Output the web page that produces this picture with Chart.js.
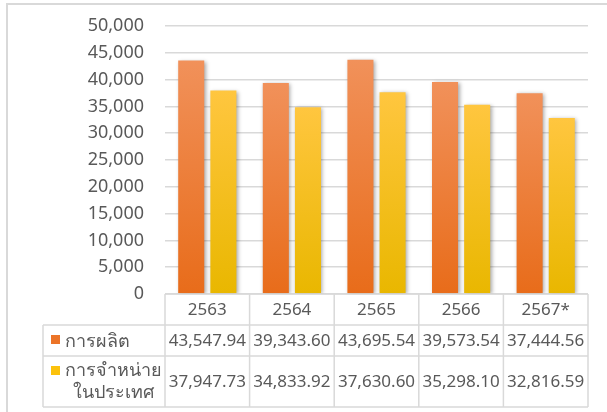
<!DOCTYPE html>
<html lang="th">
<head>
  <meta charset="UTF-8">
  <title>การผลิตและการจำหน่าย</title>
  <script src="https://cdn.jsdelivr.net/npm/chart.js@4.4.1/dist/chart.umd.min.js"></script>
  <style>
    body { margin: 0; padding: 0; overflow: hidden; background: #fff; }
    #wrap { position: relative; width: 607px; height: 412px; }
  </style>
</head>
<body>
  <div id="wrap"><canvas id="chart" width="607" height="412"></canvas></div>

  <script>
    // data
    const categories = ['2563', '2564', '2565', '2566', '2567*'];
    const production = [43547.94, 39343.60, 43695.54, 39573.54, 37444.56];
    const domestic = [37947.73, 34833.92, 37630.60, 35298.10, 32816.59];
    const seriesNames = [['การผลิต'], ['การจำหน่าย', 'ในประเทศ']];
    const yMax = 50000;
    const yStep = 5000;

    const textColor = '#595959';
    const lineColor = '#d9d9d9';
    const fontFamily = '"Noto Sans", Tahoma, sans-serif';
    const keyColors = ['#ec7428', '#fcc20c'];

    // per-bar vertical gradient like the office chart fill
    function barFill(top, bottom) {
      return function (context) {
        const chart = context.chart;
        const y = chart.scales.y;
        if (!y || context.parsed == null) return top;
        const y0 = y.getPixelForValue(context.parsed.y);
        const y1 = y.getPixelForValue(0);
        if (!isFinite(y0) || !isFinite(y1) || y0 === y1) return top;
        const g = chart.ctx.createLinearGradient(0, y0, 0, y1);
        g.addColorStop(0, top);
        g.addColorStop(1, bottom);
        return g;
      };
    }

    const shadowPlugin = {
      id: 'barShadow',
      beforeDatasetsDraw(chart) {
        const ctx = chart.ctx;
        ctx.save();
        ctx.shadowColor = 'rgba(0,0,0,0.35)';
        ctx.shadowBlur = 4;
        ctx.shadowOffsetX = 1.5;
        ctx.shadowOffsetY = 1;
      },
      afterDatasetsDraw(chart) {
        chart.ctx.restore();
      }
    };

    // data table under the plot, placed from the x scale
    const tablePlugin = {
      id: 'dataTable',
      afterDraw(chart) {
        const ctx = chart.ctx;
        const area = chart.chartArea;
        const x = chart.scales.x;
        const n = categories.length;
        const colW = (area.right - area.left) / n;
        const top = area.bottom;
        const rows = [top, top + 31, top + 62, top + 113];
        const labelLeft = 43;

        ctx.save();
        // outer frame of the chart object
        ctx.strokeStyle = lineColor;
        ctx.lineWidth = 2;
        ctx.beginPath();
        ctx.moveTo(7, 412);
        ctx.lineTo(7, 4);
        ctx.lineTo(607, 4);
        ctx.stroke();

        ctx.lineWidth = 1.5;
        ctx.beginPath();
        ctx.moveTo(area.left, rows[0]);
        ctx.lineTo(area.right, rows[0]);
        for (let r = 1; r < rows.length; r++) {
          ctx.moveTo(labelLeft, rows[r]);
          ctx.lineTo(area.right, rows[r]);
        }
        ctx.moveTo(labelLeft, rows[1]);
        ctx.lineTo(labelLeft, rows[3]);
        for (let i = 0; i <= n; i++) {
          const cx = area.left + i * colW;
          ctx.moveTo(cx, rows[0]);
          ctx.lineTo(cx, rows[3]);
        }
        ctx.stroke();

        ctx.fillStyle = textColor;
        ctx.textAlign = 'center';
        ctx.textBaseline = 'middle';
        ctx.font = '17px ' + fontFamily;
        const fmt = v => v.toLocaleString('en-US', { minimumFractionDigits: 2, maximumFractionDigits: 2 });
        categories.forEach((c, i) => {
          const cx = x.getPixelForValue(i);
          ctx.fillText(c, cx, (rows[0] + rows[1]) / 2 + 1);
          ctx.fillText(fmt(production[i]), cx, (rows[1] + rows[2]) / 2 + 1);
          ctx.fillText(fmt(domestic[i]), cx, (rows[2] + rows[3]) / 2 + 1);
        });

        // legend keys and series names
        ctx.font = '500 18px ' + fontFamily;
        const keyY = [rows[1] + 10, rows[2] + 10];
        seriesNames.forEach((lines, s) => {
          ctx.fillStyle = keyColors[s];
          ctx.fillRect(51, keyY[s], 9, 9);
          ctx.fillStyle = textColor;
          const w0 = ctx.measureText(lines[0]).width;
          const mid = 65 + w0 / 2;
          if (lines.length === 1) {
            ctx.fillText(lines[0], mid, (rows[1] + rows[2]) / 2 + 1);
          } else {
            ctx.fillText(lines[0], mid, rows[2] + 15);
            ctx.fillText(lines[1], mid, rows[2] + 37);
          }
        });
        ctx.restore();
      }
    };

    new Chart(document.getElementById('chart'), {
      type: 'bar',
      data: {
        labels: categories,
        datasets: [
          {
            label: seriesNames[0].join(''),
            data: production,
            backgroundColor: barFill('#f1915a', '#e86c1a'),
            categoryPercentage: 0.76,
            barPercentage: 0.81
          },
          {
            label: seriesNames[1].join(''),
            data: domestic,
            backgroundColor: barFill('#ffc63f', '#e9b700'),
            categoryPercentage: 0.76,
            barPercentage: 0.81
          }
        ]
      },
      options: {
        responsive: false,
        animation: false,
        layout: { padding: { left: 0, right: 19, top: 26, bottom: 118 } },
        plugins: {
          legend: { display: false },
          tooltip: { enabled: false }
        },
        scales: {
          x: {
            display: false
          },
          y: {
            min: 0,
            max: yMax,
            border: { display: false },
            grid: { color: lineColor, lineWidth: 1.5, drawTicks: false },
            ticks: {
              stepSize: yStep,
              padding: 21,
              color: textColor,
              font: { family: fontFamily, size: 18 },
              callback: v => v.toLocaleString('en-US')
            },
            afterFit(scale) {
              scale.width = 165;
              scale.paddingTop = 0;
              scale.paddingBottom = 0;
            }
          }
        }
      },
      plugins: [shadowPlugin, tablePlugin]
    });
  </script>
</body>
</html>
